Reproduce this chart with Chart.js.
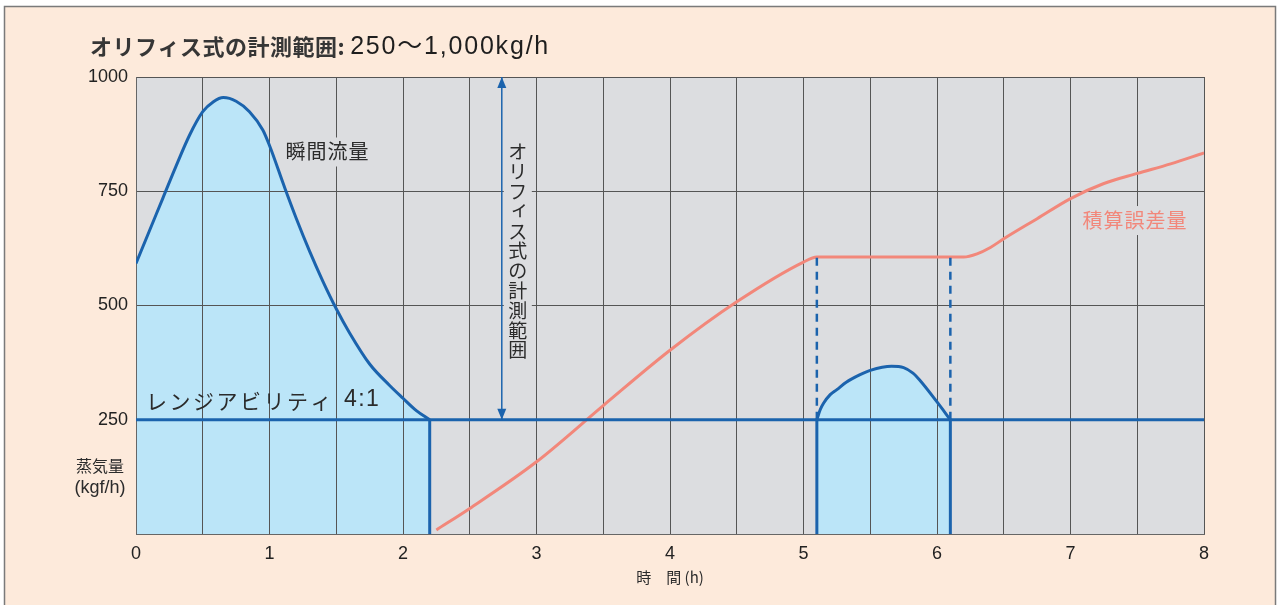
<!DOCTYPE html>
<html>
<head>
<meta charset="utf-8">
<script src="https://cdn.jsdelivr.net/npm/chart.js@4.4.0/dist/chart.umd.min.js"></script>
<style>
  html, body { margin: 0; padding: 0; background: #fff; }
  #wrap { width: 1277px; height: 605px; }
  canvas {
    background: linear-gradient(#fdeadb, #fdeadb) 4px 6px / 1271px 700px no-repeat, #fff;
  }
</style>
</head>
<body>
<div id="wrap"><canvas id="chart" width="1277" height="605"></canvas></div>
<script>
// 瞬間流量 (first run)
const hoursFlow = [0, 0.1, 0.2, 0.3, 0.4, 0.5, 0.58, 0.654, 0.75, 0.85, 0.95, 1.0, 1.116, 1.2, 1.3, 1.4, 1.5, 1.6, 1.75, 1.9, 2.0, 2.1, 2.2];
const flowValues = [592, 663, 734, 805, 872, 924, 946, 955, 947, 924, 884, 850, 756, 691, 619, 553, 493, 440, 372, 325, 297, 270, 250];

// 瞬間流量 (second run)
const hoursHump = [5.1, 5.125, 5.15, 5.2, 5.25, 5.32, 5.42, 5.5, 5.66, 5.75, 5.82, 5.87, 6.0, 6.1];
const humpValues = [250, 272, 286, 305, 316, 332, 348, 358, 367, 364, 352, 337, 289, 250];

// 積算誤差量
const hoursError = [2.25, 2.5, 3.0, 3.5, 4.0, 4.5, 5.0, 5.1, 6.2, 6.3, 6.4, 6.5, 6.75, 7.0, 7.25, 7.5, 7.75, 8.0];
const errorValues = [9, 56, 158, 281, 402, 508, 595, 606, 606, 613, 627, 646, 690, 734, 767, 789, 810, 834];

// レンジアビリティ lower limit and measuring range
const minFlow = 250;
const maxFlow = 1000;
const cutHours = [2.2, 5.1, 6.1];      // flow drops below range
const dashedHours = [5.1, 6.1];        // dashed guides up to error plateau
const plateauValue = 606;
const rangeArrowHour = 2.74;

const xTicks = [0, 1, 2, 3, 4, 5, 6, 7, 8];
const yTicks = [250, 500, 750, 1000];

const BLUE = '#1b63ad';
const FILL = '#bbe5f8';
const SALMON = '#f2877a';
const PLOT_BG = '#dcdde0';

function pts(xs, ys) {
    return xs.map((x, i) => ({ x: x, y: ys[i] }));
}

const datasets = [
    {   // first flow curve
        data: pts(hoursFlow, flowValues),
        borderColor: BLUE, borderWidth: 3,
        fill: 'origin', backgroundColor: FILL,
        cubicInterpolationMode: 'monotone'
    },
    {   // second flow hump
        data: pts(hoursHump, humpValues),
        borderColor: BLUE, borderWidth: 3,
        fill: 'origin', backgroundColor: FILL,
        cubicInterpolationMode: 'monotone'
    },
    {   // 4:1 lower limit
        data: pts([0, 8], [minFlow, minFlow]),
        borderColor: BLUE, borderWidth: 3
    }
];

cutHours.forEach(h => {
    datasets.push({
        data: pts([h, h], [0, minFlow]),
        borderColor: BLUE, borderWidth: 3
    });
});

dashedHours.forEach(h => {
    datasets.push({
        data: pts([h, h], [minFlow, plateauValue]),
        borderColor: BLUE, borderWidth: 2.5, borderDash: [8, 6]
    });
});

datasets.push({   // 積算誤差量
    data: pts(hoursError, errorValues),
    borderColor: SALMON, borderWidth: 3,
    cubicInterpolationMode: 'monotone'
});

datasets.push({   // measuring range arrow
    data: pts([rangeArrowHour, rangeArrowHour], [minFlow, maxFlow]),
    borderColor: BLUE, borderWidth: 1.5
});

datasets.push({   // plot background (filled first)
    data: pts([0, 8], [maxFlow, maxFlow]),
    borderWidth: 0,
    fill: 'origin', backgroundColor: PLOT_BG
});

const CJK = '"Noto Sans CJK JP"';
const LATIN = '"Liberation Sans", "Noto Sans CJK JP"';

function labelBox(ctx, text, left, midY, pad) {
    const w = ctx.measureText(text).width;
    ctx.fillStyle = PLOT_BG;
    ctx.fillRect(left - pad, midY - 14, w + pad * 2, 29);
    return w;
}

const textPlugin = {
    id: 'texts',
    afterDatasetsDraw(chart) {
        const ctx = chart.ctx;
        const x = chart.scales.x, y = chart.scales.y;
        ctx.save();

        // arrow heads on the measuring range line
        const arrowMeta = chart.getDatasetMeta(datasets.length - 2);
        const p0 = arrowMeta.data[0], p1 = arrowMeta.data[1];
        ctx.fillStyle = BLUE;
        ctx.beginPath();
        ctx.moveTo(p1.x, p1.y);
        ctx.lineTo(p1.x - 4.5, p1.y + 11);
        ctx.lineTo(p1.x + 4.5, p1.y + 11);
        ctx.closePath();
        ctx.fill();
        ctx.beginPath();
        ctx.moveTo(p0.x, p0.y);
        ctx.lineTo(p0.x - 4.5, p0.y - 11);
        ctx.lineTo(p0.x + 4.5, p0.y - 11);
        ctx.closePath();
        ctx.fill();

        ctx.textBaseline = 'middle';
        ctx.textAlign = 'left';

        // 瞬間流量
        ctx.font = '20px ' + CJK;
        ctx.letterSpacing = '1px';
        let lx = x.getPixelForValue(1.12), ly = y.getPixelForValue(837);
        labelBox(ctx, '瞬間流量', lx, ly, 4);
        ctx.fillStyle = '#2b2b2b';
        ctx.fillText('瞬間流量', lx, ly);

        // 積算誤差量
        lx = x.getPixelForValue(7.09); ly = y.getPixelForValue(687);
        labelBox(ctx, '積算誤差量', lx, ly, 4);
        ctx.fillStyle = SALMON;
        ctx.fillText('積算誤差量', lx, ly);

        // レンジアビリティ 4:1
        ctx.font = '21px ' + CJK;
        ctx.letterSpacing = '2.5px';
        ctx.fillStyle = '#2b2b2b';
        ctx.fillText('レンジアビリティ', x.getPixelForValue(0.075), y.getPixelForValue(291));
        const kw = ctx.measureText('レンジアビリティ').width;
        ctx.font = '23px ' + LATIN;
        ctx.letterSpacing = '1.5px';
        ctx.fillText(' 4:1', x.getPixelForValue(0.075) + kw + 2, y.getPixelForValue(293));

        // vertical label beside the arrow
        const vText = 'オリフィス式の計測範囲';
        const vx = x.getPixelForValue(2.86);
        const vTop = y.getPixelForValue(857);
        const step = 19.8;
        ctx.letterSpacing = '0px';
        ctx.fillStyle = PLOT_BG;
        ctx.fillRect(vx - 14, vTop - 8, 28, step * vText.length + 14);
        ctx.font = '19px ' + CJK;
        ctx.textAlign = 'center';
        ctx.fillStyle = '#2b2b2b';
        for (let i = 0; i < vText.length; i++) {
            const ch = vText[i];
            const small = ch === 'ィ';
            ctx.fillText(ch, vx + (small ? 2 : 0), vTop + step * i + step / 2 + (small ? -3 : 0));
        }
        ctx.restore();
    },
    afterDraw(chart) {
        const ctx = chart.ctx;
        const area = chart.chartArea;
        const x = chart.scales.x, y = chart.scales.y;
        ctx.save();

        // outer frame
        ctx.strokeStyle = '#7a7a7a';
        ctx.lineWidth = 1.5;
        ctx.strokeRect(4.5, 6.5, 1271, 700);

        // title
        ctx.textBaseline = 'middle';
        ctx.textAlign = 'left';
        ctx.font = 'bold 22px ' + CJK;
        ctx.letterSpacing = '0.5px';
        ctx.fillStyle = '#363636';
        const t1 = 'オリフィス式の計測範囲:';
        ctx.fillText(t1, 90, 47);
        const t1w = ctx.measureText(t1).width;
        ctx.font = '25px ' + LATIN;
        ctx.letterSpacing = '1.8px';
        ctx.fillStyle = '#1e1e1e';
        ctx.fillText('250〜1,000kg/h', 90 + t1w + 5, 47);

        // y axis title
        ctx.letterSpacing = '0px';
        ctx.textAlign = 'center';
        ctx.fillStyle = '#2b2b2b';
        ctx.font = '16px ' + CJK;
        ctx.fillText('蒸気量', area.left - 36, y.getPixelForValue(150));
        ctx.font = '18px ' + LATIN;
        ctx.fillText('(kgf/h)', area.left - 36, y.getPixelForValue(101));

        // x axis title
        ctx.font = '15px ' + CJK;
        ctx.fillText('時　間 (h)', x.getPixelForValue(4), 577);
        ctx.restore();
    }
};

const ctx = document.getElementById('chart').getContext('2d');
const chart = new Chart(ctx, {
    type: 'line',
    data: { datasets: datasets },
    options: {
        responsive: false,
        animation: false,
        devicePixelRatio: 1,
        layout: { padding: { left: 0, top: 77, right: 73, bottom: 0 } },
        elements: { point: { radius: 0, hoverRadius: 0 }, line: { tension: 0 } },
        plugins: {
            legend: { display: false },
            tooltip: { enabled: false },
            filler: { drawTime: 'beforeDraw' }
        },
        scales: {
            x: {
                type: 'linear',
                min: 0, max: 8,
                afterFit: s => { s.height = 71; },
                afterBuildTicks: s => {
                    const t = [];
                    for (let i = 0; i < xTicks.length; i++) {
                        t.push({ value: xTicks[i] });
                        if (i < xTicks.length - 1) t.push({ value: xTicks[i] + 0.5 });
                    }
                    s.ticks = t;
                },
                grid: { color: '#555', lineWidth: 1, drawTicks: false },
                border: { display: true, color: '#666', width: 1 },
                ticks: {
                    autoSkip: false, maxRotation: 0, padding: 9,
                    color: '#222',
                    font: { family: 'Liberation Sans', size: 18 },
                    callback: v => xTicks.includes(v) ? String(v) : ''
                }
            },
            y: {
                type: 'linear',
                min: 0, max: maxFlow,
                afterFit: s => { s.width = 136; },
                afterBuildTicks: s => {
                    s.ticks = [{ value: 0 }].concat(yTicks.map(v => ({ value: v })));
                },
                grid: { color: '#555', lineWidth: 1, drawTicks: false },
                border: { display: true, color: '#666', width: 1 },
                ticks: {
                    padding: 8,
                    color: '#222',
                    font: { family: 'Liberation Sans', size: 18 },
                    callback: v => yTicks.includes(v) ? String(v) : ''
                }
            }
        }
    },
    plugins: [textPlugin]
});
</script>
</body>
</html>
